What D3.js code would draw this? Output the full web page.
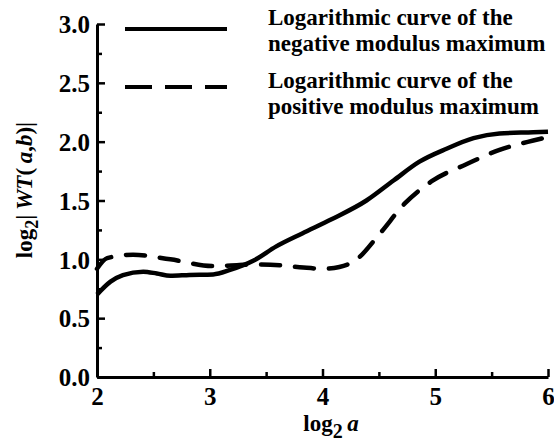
<!DOCTYPE html>
<html>
<head>
<meta charset="utf-8">
<script src="https://cdn.jsdelivr.net/npm/d3@7"></script>
<style>
  body { margin: 0; background: #fff; }
  text { font-family: "Liberation Serif", "Times New Roman", serif; font-weight: bold; fill: #000; }
</style>
</head>
<body>
<div class="render"></div>
<script>
// log2 a values and log2|WT(a,b)|
var negX = [2.0, 2.12, 2.23, 2.41, 2.53, 2.65, 2.82, 3.03, 3.18, 3.39, 3.59, 3.82, 4.08, 4.39, 4.63, 4.86, 5.10, 5.34, 5.57, 5.87, 6.0];
var negY = [0.70, 0.81, 0.865, 0.895, 0.88, 0.86, 0.867, 0.872, 0.91, 0.99, 1.11, 1.22, 1.34, 1.50, 1.67, 1.83, 1.94, 2.03, 2.07, 2.08, 2.085];
var posX = [2.0, 2.09, 2.32, 2.65, 3.03, 3.24, 3.39, 3.62, 3.83, 4.01, 4.15, 4.29, 4.51, 4.73, 4.98, 5.28, 5.57, 5.87, 6.0];
var posY = [0.92, 1.01, 1.04, 1.0, 0.943, 0.95, 0.957, 0.95, 0.93, 0.92, 0.935, 0.99, 1.22, 1.475, 1.67, 1.81, 1.93, 2.01, 2.04];
var xTicks = [2, 3, 4, 5, 6];
var yTicks = [0.0, 0.5, 1.0, 1.5, 2.0, 2.5, 3.0];
var legendLabels = [
  ["Logarithmic curve of the", "negative modulus maximum"],
  ["Logarithmic curve of the", "positive modulus maximum"]
];

var width = 554, height = 448;
var margin = {top: 24, right: 6, bottom: 71, left: 97};

var svg = d3.select(".render").append("svg")
    .attr("width", width).attr("height", height);

var x = d3.scaleLinear().domain([2, 6]).range([margin.left, width - margin.right]);
var y = d3.scaleLinear().domain([0, 3]).range([height - margin.bottom, margin.top]);

// minor ticks (inward, short)
var xAxisMinor = d3.axisTop(x).tickValues(d3.range(2.5, 6, 1)).tickSize(5).tickFormat("");
var yAxisMinor = d3.axisRight(y).tickValues(d3.range(0.25, 3, 0.5)).tickSize(5).tickFormat("");

svg.append("g")
    .attr("transform", "translate(0," + y(0) + ")")
    .call(xAxisMinor)
    .call(function(g) { g.select(".domain").remove(); g.selectAll("line").attr("stroke-width", 2.5); });
svg.append("g")
    .attr("transform", "translate(" + x(2) + ",0)")
    .call(yAxisMinor)
    .call(function(g) { g.select(".domain").remove(); g.selectAll("line").attr("stroke-width", 2.5); });

// major ticks
var xAxis = d3.axisTop(x).tickValues(xTicks).tickSize(8).tickSizeOuter(0).tickFormat(d3.format("d"));
var yAxis = d3.axisRight(y).tickValues(yTicks).tickSize(8).tickSizeOuter(0).tickFormat(d3.format(".1f"));

var gx = svg.append("g")
    .attr("transform", "translate(0," + y(0) + ")")
    .call(xAxis);
gx.select(".domain").attr("stroke-width", 3);
gx.selectAll(".tick line").attr("stroke-width", 2.5);
gx.selectAll(".tick text")
    .attr("y", 28).attr("dy", 0)
    .style("font-size", "25px");

var gy = svg.append("g")
    .attr("transform", "translate(" + x(2) + ",0)")
    .call(yAxis);
gy.select(".domain").attr("stroke-width", 3);
gy.selectAll(".tick line").attr("stroke-width", 2.5);
gy.selectAll(".tick text")
    .attr("x", -7).attr("text-anchor", "end").attr("dy", "0.35em")
    .style("font-size", "25px");

// axis titles
var xt = svg.append("text")
    .attr("x", 331).attr("y", 431)
    .attr("text-anchor", "middle")
    .style("font-size", "23px");
xt.append("tspan").text("log");
xt.append("tspan").attr("dy", 7).style("font-size", "20px").text("2");
xt.append("tspan").attr("dy", -7).style("font-style", "italic").text("\u2009a");

var yt = svg.append("text")
    .attr("transform", "translate(32,190) rotate(-90)")
    .attr("text-anchor", "middle")
    .style("font-size", "23px");
yt.append("tspan").text("log");
yt.append("tspan").attr("dy", 6).style("font-size", "18px").text("2");
yt.append("tspan").attr("dy", -6).text("|\u2009");
yt.append("tspan").style("font-style", "italic").text("WT");
yt.append("tspan").text("(\u2009");
yt.append("tspan").style("font-style", "italic").text("a");
yt.append("tspan").text(",");
yt.append("tspan").style("font-style", "italic").text("b");
yt.append("tspan").text(")|");

// curves
var line = d3.line().curve(d3.curveMonotoneX)
    .x(function(d) { return x(d[0]); })
    .y(function(d) { return y(d[1]); });

svg.append("path")
    .datum(d3.zip(negX, negY))
    .attr("d", line)
    .attr("fill", "none").attr("stroke", "#000")
    .attr("stroke-width", 4.5).attr("stroke-linejoin", "round");

svg.append("path")
    .datum(d3.zip(posX, posY))
    .attr("d", line)
    .attr("fill", "none").attr("stroke", "#000")
    .attr("stroke-width", 4.5).attr("stroke-linecap", "round")
    .attr("stroke-dasharray", "19,15");

// legend
var legend = svg.append("g");
var legendY = [29, 87];
var legendTextY = [25, 88];
legendLabels.forEach(function(lbl, i) {
    legend.append("line")
        .attr("x1", 125).attr("x2", 227)
        .attr("y1", legendY[i]).attr("y2", legendY[i])
        .attr("stroke", "#000").attr("stroke-width", 4)
        .attr("stroke-dasharray", i == 1 ? "27,13" : null);
    var t = legend.append("text")
        .attr("x", 268).attr("y", legendTextY[i])
        .style("font-size", "23px");
    t.append("tspan").attr("x", 268).text(lbl[0]);
    t.append("tspan").attr("x", 268).attr("dy", 26).text(lbl[1]);
});
</script>
</body>
</html>
